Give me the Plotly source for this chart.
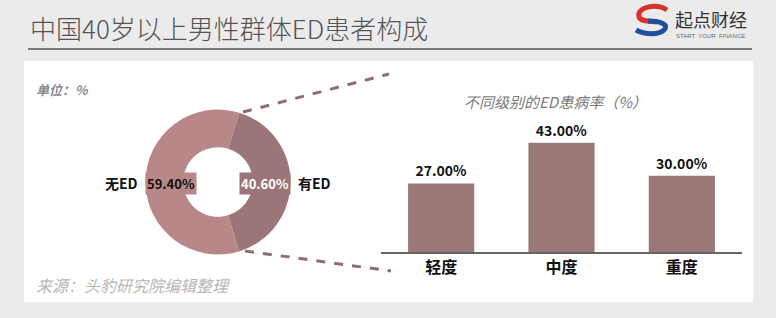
import plotly.graph_objects as go

W, H = 776, 318

# ---- data ----
title_text = "中国40岁以上男性群体ED患者构成"
pie_labels = ["有ED", "无ED"]
pie_values = [40.6, 59.4]
bar_categories = ["轻度", "中度", "重度"]
bar_values = [27.0, 43.0, 30.0]
bar_title = "不同级别的ED患病率（%）"
unit_text = "单位：%"
source_text = "来源：头豹研究院编辑整理"

CJK = "Noto Sans CJK SC, Noto Sans, sans-serif"
c_light = "#b88787"
c_dark = "#9b7577"
c_bar = "#9b7878"


def px(x):
    return x / W


def py(y):
    return 1 - y / H


fig = go.Figure()

# donut
cx, cy, r = 218, 182, 72.5
fig.add_trace(go.Pie(
    labels=pie_labels, values=pie_values, hole=0.48, sort=False,
    direction="clockwise", rotation=17,
    marker=dict(colors=[c_dark, c_light], line=dict(width=0)),
    textinfo="none", hoverinfo="label+percent", showlegend=False,
    domain=dict(x=[px(cx - r), px(cx + r)], y=[py(cy + r), py(cy - r)]),
))

# bars
fig.add_trace(go.Bar(
    x=bar_categories, y=bar_values, marker=dict(color=c_bar, line=dict(width=0)),
    texttemplate="%{y:.2f}%", textposition="outside", cliponaxis=False,
    textfont=dict(family=CJK, size=14, color="#111", weight="bold"),
    showlegend=False, width=0.55,
))

fig.update_layout(
    width=W, height=H, margin=dict(l=0, r=0, t=0, b=0),
    paper_bgcolor="#ebebeb", plot_bgcolor="rgba(0,0,0,0)",
    xaxis=dict(domain=[px(381), px(742)], range=[-0.5, 2.5], showgrid=False,
               showline=True, linecolor="#666", linewidth=1.8, ticks="",
               tickfont=dict(family=CJK, size=16, color="#111", weight="bold"),
               fixedrange=True),
    yaxis=dict(domain=[py(252), py(125)], range=[0, 50], visible=False,
               fixedrange=True),
    bargap=0.45,
)

shapes = []
# white panel
shapes.append(dict(type="rect", xref="paper", yref="paper", layer="below",
                   x0=px(24), x1=px(753), y0=py(302), y1=py(61),
                   fillcolor="white", line=dict(width=0)))
# title underline
shapes.append(dict(type="line", xref="paper", yref="paper",
                   x0=px(28), x1=px(752), y0=py(49), y1=py(49),
                   line=dict(color="#555", width=1.3)))
# dashed connectors
shapes.append(dict(type="line", xref="paper", yref="paper",
                   x0=px(243), y0=py(112), x1=px(389), y1=py(74),
                   line=dict(color="#8e6e70", width=3, dash="dash")))
shapes.append(dict(type="line", xref="paper", yref="paper",
                   x0=px(245), y0=py(251), x1=px(391), y1=py(271),
                   line=dict(color="#8e6e70", width=3, dash="dash")))


def p(x, y):
    return f"{px(x):.5f},{py(y):.5f}"


# logo S
shapes.append(dict(type="path", xref="paper", yref="paper",
                   path=f"M {p(667,10)} C {p(656,3)} {p(636,7)} {p(639,17)} C {p(641,22)} {p(652,21)} {p(657,22)}",
                   line=dict(color="#d8312b", width=5)))
shapes.append(dict(type="path", xref="paper", yref="paper",
                   path=f"M {p(648,21)} C {p(662,21)} {p(669,25)} {p(664,30)} C {p(659,35)} {p(645,35)} {p(636,30)}",
                   line=dict(color="#1f4e9c", width=5)))
fig.update_layout(shapes=shapes)

ann = []
ann.append(dict(text=title_text, x=px(28), y=py(28), xanchor="left", yanchor="middle",
                font=dict(family=CJK, size=26, color="#555", weight=300)))
ann.append(dict(text="起点财经", x=px(673), y=py(19), xanchor="left", yanchor="middle",
                font=dict(family=CJK, size=18, color="#333")))
ann.append(dict(text="START  YOUR  FINANCE", x=px(674), y=py(36), xanchor="left", yanchor="middle",
                font=dict(family="Liberation Sans", size=6, color="#666")))
ann.append(dict(text=unit_text, x=px(34), y=py(90), xanchor="left", yanchor="middle",
                font=dict(family=CJK, size=13, color="#8a8a8a", weight="bold", style="italic")))
ann.append(dict(text=source_text, x=px(34), y=py(285), xanchor="left", yanchor="middle",
                font=dict(family=CJK, size=16, color="#b5b5b5", style="italic")))
ann.append(dict(text=bar_title, x=px(555), y=py(101), xanchor="center", yanchor="middle",
                font=dict(family=CJK, size=15, color="#7a7a7a", style="italic")))

# donut labels
ann.append(dict(text=pie_labels[1], x=px(121), y=py(183), xanchor="center", yanchor="middle",
                font=dict(family=CJK, size=14, color="#111", weight="bold")))
ann.append(dict(text=f"{pie_values[1]:.2f}%", x=px(171), y=py(183), xanchor="center", yanchor="middle",
                bgcolor=c_light, borderpad=1,
                font=dict(family=CJK, size=13, color="#111", weight="bold")))
ann.append(dict(text=f"{pie_values[0]:.2f}%", x=px(265), y=py(183), xanchor="center", yanchor="middle",
                bgcolor=c_dark, borderpad=1,
                font=dict(family=CJK, size=13, color="white", weight="bold")))
ann.append(dict(text=pie_labels[0], x=px(314), y=py(183), xanchor="center", yanchor="middle",
                font=dict(family=CJK, size=14, color="#111", weight="bold")))

for a in ann:
    a.update(xref="paper", yref="paper", showarrow=False)
fig.update_layout(annotations=ann)

fig.write_html("out.html")
